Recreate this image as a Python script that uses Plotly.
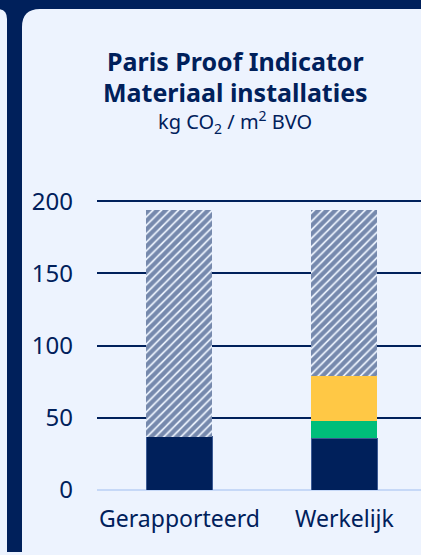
import plotly.graph_objects as go

# Chart data (kg CO2 / m2 BVO)
categories = ["Gerapporteerd", "Werkelijk"]
basis_values = [37, 36]          # navy base segment
groen_values = [0, 12]           # green segment
geel_values = [0, 31]            # yellow segment
budget_total = [194, 194]        # top of the hatched budget bar
y_ticks = [0, 50, 100, 150, 200]

NAVY = "#00205B"
CARD = "#EDF3FE"
YELLOW = "#FFC845"
GREEN = "#00BE7A"
ZERO = "#C6D8F7"
FONT = "Noto Sans"

W, H = 421, 555
ML, MR, MT, MB = 97, 0, 194, 65
PW, PH = W - ML - MR, H - MT - MB


def px(x):
    return (x - ML) / PW


def py(y):
    return (H - MB - y) / PH


rest_values = [t - a - b - c for t, a, b, c in zip(budget_total, basis_values, groen_values, geel_values)]

fig = go.Figure()
fig.add_bar(x=categories, y=basis_values, marker=dict(color=NAVY, line=dict(color="#3C5A93", width=1)),
            hoverinfo="skip")
fig.add_bar(x=categories, y=groen_values, marker=dict(color=GREEN, line=dict(width=0)), hoverinfo="skip")
fig.add_bar(x=categories, y=geel_values, marker=dict(color=YELLOW, line=dict(width=0)), hoverinfo="skip")
fig.add_bar(x=categories, y=rest_values,
            marker=dict(color=CARD, line=dict(width=0),
                        pattern=dict(shape="/", fgcolor=NAVY, bgcolor=CARD, size=6, solidity=0.7)),
            hoverinfo="skip")

# dark frame around the card
shapes = [
    dict(type="rect", xref="paper", yref="paper", x0=px(-10), x1=px(W + 10), y0=py(9), y1=py(-10),
         fillcolor=NAVY, line=dict(width=0), layer="below"),
    dict(type="rect", xref="paper", yref="paper", x0=px(7), x1=px(22), y0=py(552), y1=py(0),
         fillcolor=NAVY, line=dict(width=0), layer="below"),
    dict(type="path", xref="paper", yref="paper",
         path=f"M {px(22)},{py(9)} L {px(40)},{py(9)} Q {px(22)},{py(9)} {px(22)},{py(27)} Z",
         fillcolor=NAVY, line=dict(width=0), layer="below"),
    dict(type="path", xref="paper", yref="paper",
         path=f"M {px(7)},{py(9)} L {px(7)},{py(19)} Q {px(7)},{py(9)} {px(-3)},{py(9)} Z",
         fillcolor=NAVY, line=dict(width=0), layer="below"),
]

annotations = [
    dict(text="<b>Paris Proof Indicator</b>", x=px(235), y=py(80), xref="paper", yref="paper",
         xanchor="center", yanchor="bottom", showarrow=False,
         font=dict(family=FONT, size=25, color=NAVY)),
    dict(text="<b>Materiaal installaties</b>", x=px(235), y=py(111), xref="paper", yref="paper",
         xanchor="center", yanchor="bottom", showarrow=False,
         font=dict(family=FONT, size=25, color=NAVY)),
    dict(text="kg CO<sub>2</sub> / m<sup>2</sup> BVO", x=px(235), y=py(140), xref="paper", yref="paper",
         xanchor="center", yanchor="bottom", showarrow=False,
         font=dict(family=FONT, size=20, color=NAVY)),
]

fig.update_layout(
    width=W, height=H,
    margin=dict(l=ML, r=MR, t=MT, b=MB),
    paper_bgcolor=CARD, plot_bgcolor=CARD,
    barmode="stack", bargap=0.6,
    showlegend=False,
    shapes=shapes, annotations=annotations,
    font=dict(family=FONT, color=NAVY),
    xaxis=dict(range=[-0.5, 1.464], showgrid=False, zeroline=False, showline=False,
               tickfont=dict(family=FONT, size=23, color=NAVY), ticklabelstandoff=13, fixedrange=True),
    yaxis=dict(range=[0, 205], tickvals=y_ticks, showgrid=True, gridcolor=NAVY, gridwidth=2,
               zeroline=True, zerolinecolor=ZERO, zerolinewidth=2, showline=False,
               tickfont=dict(family=FONT, size=24, color=NAVY), ticklabelstandoff=23, fixedrange=True),
)

fig.write_html("out.html", config={"displayModeBar": False})
